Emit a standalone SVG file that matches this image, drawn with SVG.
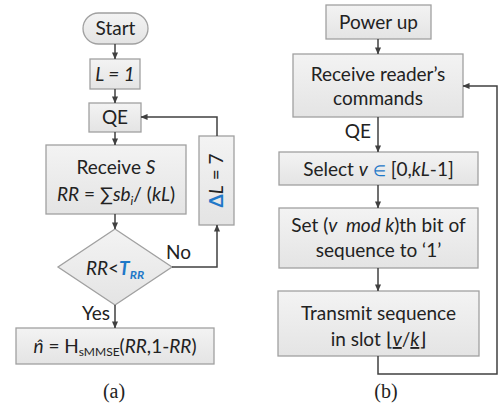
<svg xmlns="http://www.w3.org/2000/svg" width="501" height="410" viewBox="0 0 501 410">
  <defs>
    <linearGradient id="boxFill" x1="0" y1="0" x2="0" y2="1">
      <stop offset="0" stop-color="#f3f3f3"/>
      <stop offset="1" stop-color="#e4e4e4"/>
    </linearGradient>
    <marker id="arrow" viewBox="0 0 8 8" refX="7.5" refY="4" markerWidth="7" markerHeight="7" markerUnits="userSpaceOnUse" orient="auto">
      <path d="M0,0.5 L8,4 L0,7.5 Z" fill="#404040"/>
    </marker>
  </defs>
  <style>
    .box { fill: url(#boxFill); stroke: #a0a0a0; stroke-width: 1.3; }
    .t { font-family: Lato, "Open Sans", sans-serif; font-size: 19px; fill: #222; text-anchor: middle; }
    .lbl { font-family: Lato, "Open Sans", sans-serif; font-size: 19px; fill: #222; }
    .i { font-style: italic; }
    .blue { fill: #1f78c8; font-weight: bold; }
    .cap { font-family: "Liberation Serif", "Times New Roman", serif; font-size: 20px; fill: #222; text-anchor: middle; }
    .conn { fill: none; stroke: #404040; stroke-width: 1.5; }
  </style>

  <!-- Flowchart (a) -->
  <g id="start">
    <rect class="box" x="83" y="13" width="65" height="31" rx="15.5"/>
    <text class="t" x="115.5" y="35">Start</text>
  </g>
  <g id="init-L">
    <rect class="box" x="90" y="59" width="50" height="30"/>
    <text class="t i" x="115" y="81">L = 1</text>
  </g>
  <g id="qe-a">
    <rect class="box" x="89" y="103" width="52" height="29"/>
    <text class="t" x="115" y="124">QE</text>
  </g>
  <g id="receive-s">
    <rect class="box" x="46" y="145" width="140" height="69"/>
    <text class="t" x="116" y="174">Receive <tspan class="i">S</tspan></text>
    <text class="t" x="116" y="201"><tspan class="i">RR</tspan> = ∑<tspan class="i">sb</tspan><tspan class="i" font-size="12" dy="4">i</tspan><tspan dy="-4">/ (</tspan><tspan class="i">kL</tspan>)</text>
  </g>
  <g id="decision">
    <polygon class="box" points="115,229 172,267 115,305 58,267"/>
    <text class="t" x="115" y="275"><tspan class="i">RR</tspan>&lt;<tspan class="i blue">T</tspan><tspan class="i blue" font-size="12" dy="4">RR</tspan></text>
  </g>
  <g id="increment-L">
    <rect class="box" x="199" y="136" width="35" height="89"/>
    <text class="t" transform="translate(223,180.5) rotate(-90)"><tspan class="blue">Δ</tspan><tspan class="i">L</tspan> = 7</text>
  </g>
  <g id="estimate">
    <rect class="box" x="16" y="328" width="198" height="36"/>
    <text class="t" x="115" y="353"><tspan class="i">n̂</tspan> = H<tspan font-size="12" dy="3">sMMSE</tspan><tspan dy="-3">(</tspan><tspan class="i">RR</tspan>,1-<tspan class="i">RR</tspan>)</text>
  </g>
  <text class="cap" x="114" y="398">(a)</text>

  <!-- Flowchart (b) -->
  <g id="power-up">
    <rect class="box" x="326" y="5" width="105" height="34"/>
    <text class="t" x="378.5" y="29">Power up</text>
  </g>
  <g id="receive-cmds">
    <rect class="box" x="293" y="54" width="170" height="63"/>
    <text class="t" x="378" y="81">Receive reader’s</text>
    <text class="t" x="378" y="105">commands</text>
  </g>
  <g id="select-v">
    <rect class="box" x="279" y="152" width="199" height="33"/>
    <text class="t" x="378.5" y="176">Select <tspan class="i">v</tspan> <tspan fill="#1f78c8" font-size="15">∈</tspan> [0,<tspan class="i">kL</tspan>-1]</text>
  </g>
  <g id="set-bit">
    <rect class="box" x="279" y="208" width="199" height="60"/>
    <text class="t" x="378.5" y="232">Set (<tspan class="i">v&#160; mod k</tspan>)th bit of</text>
    <text class="t" x="378.5" y="257">sequence to ‘1’</text>
  </g>
  <g id="transmit">
    <rect class="box" x="278" y="291" width="201" height="65"/>
    <text class="t" x="378.5" y="320">Transmit sequence</text>
    <text class="t" x="378.5" y="346">in slot ⌊<tspan class="i" text-decoration="underline">v</tspan>/<tspan class="i" text-decoration="underline">k</tspan>⌋</text>
  </g>
  <text class="cap" x="386" y="398">(b)</text>

  <!-- Edge labels -->
  <text class="lbl" x="166" y="259">No</text>
  <text class="lbl" x="110" y="320" text-anchor="end">Yes</text>
  <text class="lbl" x="371" y="138" text-anchor="end">QE</text>

  <!-- Connectors -->
  <g id="connectors">
    <line class="conn" x1="115" y1="44" x2="115" y2="59" marker-end="url(#arrow)"/>
    <line class="conn" x1="115" y1="89" x2="115" y2="103" marker-end="url(#arrow)"/>
    <line class="conn" x1="115" y1="132" x2="115" y2="145" marker-end="url(#arrow)"/>
    <line class="conn" x1="115" y1="214" x2="115" y2="229" marker-end="url(#arrow)"/>
    <polyline class="conn" points="172,267 217,267 217,225" marker-end="url(#arrow)"/>
    <polyline class="conn" points="217,136 217,117 141,117" marker-end="url(#arrow)"/>
    <line class="conn" x1="115" y1="305" x2="115" y2="328" marker-end="url(#arrow)"/>

    <line class="conn" x1="378" y1="39" x2="378" y2="54" marker-end="url(#arrow)"/>
    <line class="conn" x1="378" y1="117" x2="378" y2="152" marker-end="url(#arrow)"/>
    <line class="conn" x1="378" y1="185" x2="378" y2="208" marker-end="url(#arrow)"/>
    <line class="conn" x1="378" y1="268" x2="378" y2="291" marker-end="url(#arrow)"/>
    <polyline class="conn" points="378,356 378,374 497,374 497,86 463,86" marker-end="url(#arrow)" stroke-width="1.8"/>
  </g>
</svg>
